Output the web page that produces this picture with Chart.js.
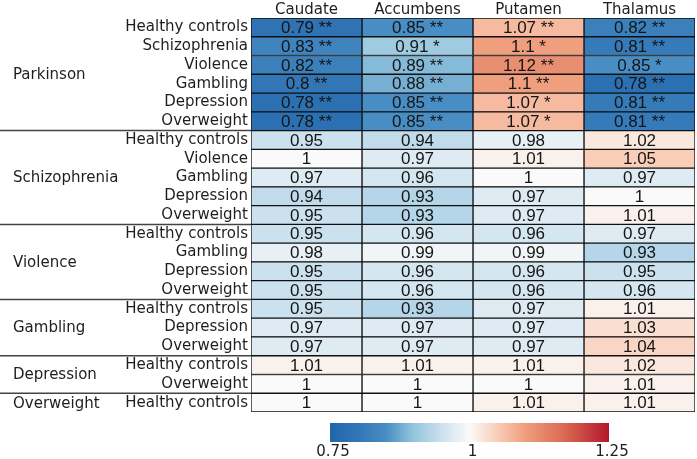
<!DOCTYPE html>
<html>
<head>
<meta charset="utf-8">
<script src="https://cdn.jsdelivr.net/npm/chart.js@4.4.1/dist/chart.umd.min.js"></script>
<style>
  html, body { margin: 0; padding: 0; background: #fff; }
  #wrap { width: 697px; height: 459px; }
</style>
</head>
<body>
<div id="wrap"><canvas id="heat"></canvas></div>
<script>
// columns (brain regions)
var regions = ['Caudate', 'Accumbens', 'Putamen', 'Thalamus'];

// row groups and the comparison inside each group
var groupNames = ['Parkinson', 'Schizophrenia', 'Violence', 'Gambling', 'Depression', 'Overweight'];
var rowGroup = [0,0,0,0,0,0, 1,1,1,1,1, 2,2,2,2, 3,3,3, 4,4, 5];
var rowLabels = [
  'Healthy controls', 'Schizophrenia', 'Violence', 'Gambling', 'Depression', 'Overweight',
  'Healthy controls', 'Violence', 'Gambling', 'Depression', 'Overweight',
  'Healthy controls', 'Gambling', 'Depression', 'Overweight',
  'Healthy controls', 'Depression', 'Overweight',
  'Healthy controls', 'Overweight',
  'Healthy controls'
];

// cell values per region
var caudate   = [0.79,0.83,0.82,0.8,0.78,0.78, 0.95,1,0.97,0.94,0.95, 0.95,0.98,0.95,0.95, 0.95,0.97,0.97, 1.01,1, 1];
var accumbens = [0.85,0.91,0.89,0.88,0.85,0.85, 0.94,0.97,0.96,0.93,0.93, 0.96,0.99,0.96,0.96, 0.93,0.97,0.97, 1.01,1, 1];
var putamen   = [1.07,1.1,1.12,1.1,1.07,1.07, 0.98,1.01,1,0.97,0.97, 0.96,0.99,0.96,0.96, 0.97,0.97,0.97, 1.01,1, 1.01];
var thalamus  = [0.82,0.81,0.85,0.78,0.81,0.81, 1.02,1.05,0.97,1,1.01, 0.97,0.93,0.95,0.96, 1.01,1.03,1.04, 1.02,1.01, 1.01];

// significance marks (only the Parkinson rows have them)
var caudateSig   = ['**','**','**','**','**','**'];
var accumbensSig = ['**','*','**','**','**','**'];
var putamenSig   = ['**','*','**','**','*','*'];
var thalamusSig  = ['**','**','*','**','**','**'];

// colour bar
var cbarMin = 0.75, cbarMax = 1.25;
var cbarTicks = [0.75, 1, 1.25];
var cbarTickLabels = ['0.75', '1', '1.25'];

var columns = [caudate, accumbens, putamen, thalamus];
var sigs = [caudateSig, accumbensSig, putamenSig, thalamusSig];

// diverging blue-white-red scale
var stops = [
  [0.75, [33,102,172]],
  [0.80, [50,118,182]],
  [0.85, [72,141,195]],
  [0.90, [148,197,222]],
  [0.95, [203,225,238]],
  [1.00, [250,250,250]],
  [1.05, [249,205,182]],
  [1.10, [239,158,126]],
  [1.17, [218,105,82]],
  [1.25, [178,24,43]]
];
function colorFor(v){
  if (v <= stops[0][0]) return 'rgb(' + stops[0][1].join(',') + ')';
  for (var i = 1; i < stops.length; i++){
    if (v <= stops[i][0]){
      var a = stops[i-1], b = stops[i];
      var t = (v - a[0]) / (b[0] - a[0]);
      var c = a[1].map(function(x, k){ return Math.round(x + (b[1][k] - x) * t); });
      return 'rgb(' + c.join(',') + ')';
    }
  }
  return 'rgb(' + stops[stops.length-1][1].join(',') + ')';
}

var cellSpan = 1; // each region takes one unit on the x scale

var datasets = regions.map(function(name, c){
  return {
    label: name,
    data: rowLabels.map(function(){ return cellSpan; }),
    backgroundColor: columns[c].map(colorFor),
    borderColor: '#111',
    borderWidth: 1,
    borderSkipped: false,
    barPercentage: 1,
    categoryPercentage: 1
  };
});

var labelFont = '15px "DejaVu Sans"';

var cellText = {
  id: 'cellText',
  afterDatasetsDraw: function(chart){
    var ctx = chart.ctx;
    ctx.save();
    ctx.font = '17px "Liberation Sans"';
    ctx.fillStyle = '#151515';
    ctx.textAlign = 'center';
    ctx.textBaseline = 'middle';
    chart.data.datasets.forEach(function(ds, c){
      var meta = chart.getDatasetMeta(c);
      meta.data.forEach(function(bar, r){
        var s = sigs[c][r];
        var txt = String(columns[c][r]) + (s ? ' ' + s : '');
        var cx = (bar.x + bar.base) / 2;
        ctx.fillText(txt, cx, bar.y + 1);
      });
    });
    ctx.restore();
  }
};

var groupsAndBar = {
  id: 'groupsAndBar',
  afterDraw: function(chart){
    var ctx = chart.ctx, y = chart.scales.y, area = chart.chartArea;
    ctx.save();
    // group labels and separators
    ctx.font = labelFont;
    ctx.fillStyle = '#1e1e1e';
    ctx.textAlign = 'left';
    ctx.textBaseline = 'middle';
    groupNames.forEach(function(g, gi){
      var rows = [];
      rowGroup.forEach(function(v, i){ if (v === gi) rows.push(i); });
      var first = rows[0], last = rows[rows.length-1];
      var yc = (y.getPixelForValue(first) + y.getPixelForValue(last)) / 2;
      ctx.fillText(g, 13, yc + 1);
      if (last < rowLabels.length - 1){
        var yl = (y.getPixelForValue(last) + y.getPixelForValue(last + 1)) / 2;
        ctx.strokeStyle = '#444';
        ctx.lineWidth = 1.5;
        ctx.beginPath();
        ctx.moveTo(0, yl);
        ctx.lineTo(area.left, yl);
        ctx.stroke();
      }
    });

    // colour bar
    var bx0 = 330, bx1 = 609, by0 = 423, by1 = 442;
    var grad = ctx.createLinearGradient(bx0, 0, bx1, 0);
    for (var k = 0; k <= 50; k++){
      var v = cbarMin + (cbarMax - cbarMin) * k / 50;
      grad.addColorStop(k / 50, colorFor(v));
    }
    ctx.fillStyle = grad;
    ctx.fillRect(bx0, by0, bx1 - bx0, by1 - by0);
    ctx.fillStyle = '#1e1e1e';
    ctx.textAlign = 'center';
    cbarTicks.forEach(function(t, i){
      var x = bx0 + (t - cbarMin) / (cbarMax - cbarMin) * (bx1 - bx0) + 3;
      ctx.fillText(cbarTickLabels[i], x, 452);
    });
    ctx.restore();
  }
};

var chart = new Chart(document.getElementById('heat'), {
  type: 'bar',
  data: { labels: rowLabels, datasets: datasets },
  options: {
    indexAxis: 'y',
    responsive: true,
    maintainAspectRatio: false,
    animation: false,
    layout: { padding: { left: 0, right: 2, top: 0, bottom: 47 } },
    plugins: { legend: { display: false }, tooltip: { enabled: false } },
    scales: {
      x: { stacked: true, min: 0, max: regions.length, display: false },
      x2: {
        type: 'category', labels: regions, position: 'top', offset: true,
        grid: { display: false, drawTicks: false }, border: { display: false },
        ticks: { font: { family: 'DejaVu Sans', size: 15 }, color: '#1e1e1e', padding: -1 },
        afterFit: function(s){ s.height = 18; }
      },
      y: {
        stacked: true,
        grid: { display: false, drawTicks: false }, border: { display: false },
        ticks: { autoSkip: false, font: { family: 'DejaVu Sans', size: 15 }, color: '#1e1e1e', padding: 3 },
        afterFit: function(s){ s.width = 251; }
      }
    }
  },
  plugins: [cellText, groupsAndBar]
});
</script>
</body>
</html>
